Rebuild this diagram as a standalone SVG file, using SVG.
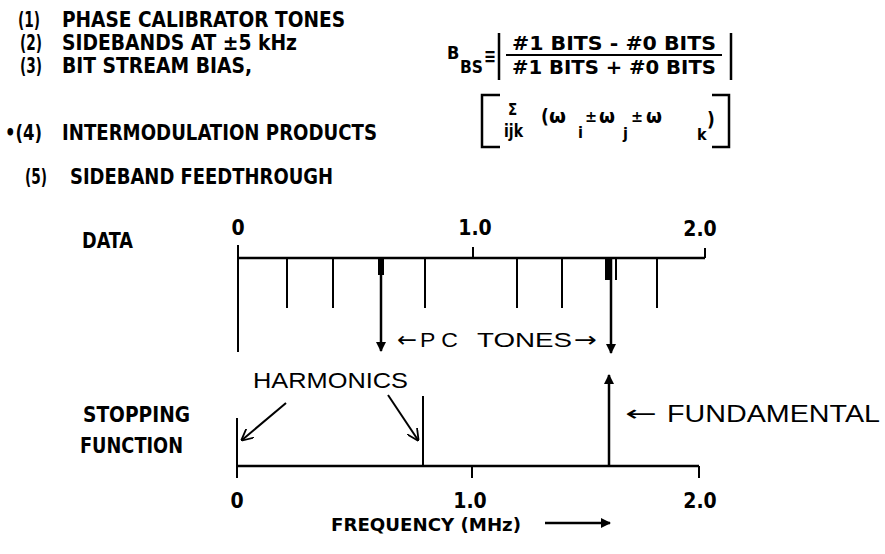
<svg xmlns="http://www.w3.org/2000/svg" width="885" height="554" viewBox="0 0 885 554">
<style>
.b{font-family:"Liberation Sans Narrow","DejaVu Sans Condensed","Liberation Sans",sans-serif;font-weight:bold;fill:#000}
.g{font-family:"DejaVu Sans","Liberation Sans",sans-serif;font-weight:bold;fill:#000}
.t{font-family:"Liberation Sans","DejaVu Sans",sans-serif;font-weight:normal;fill:#000}
.ar{font-family:"DejaVu Sans",sans-serif;font-weight:normal;fill:#000}
.ln{stroke:#000;fill:none;stroke-width:2}
.ax{stroke:#000;fill:none;stroke-width:2.5}
</style>
<defs>
<marker id="fa" viewBox="0 0 10 10" refX="9" refY="5" markerWidth="4" markerHeight="7" orient="auto" markerUnits="strokeWidth"><path d="M0 0 L10 5 L0 10 z" fill="#000"/></marker>
<marker id="oa" viewBox="0 0 10 10" refX="9" refY="5" markerWidth="6" markerHeight="6" orient="auto" markerUnits="strokeWidth"><path d="M0 0 L10 5 L0 10" fill="none" stroke="#000" stroke-width="1.5"/></marker>
</defs>
<rect width="885" height="554" fill="#fff"/>
<g id="list">
<text class="b" x="18" y="27" font-size="22" textLength="22" lengthAdjust="spacingAndGlyphs">(1)</text>
<text class="b" x="62" y="27" font-size="22" textLength="283" lengthAdjust="spacingAndGlyphs">PHASE CALIBRATOR TONES</text>
<text class="b" x="20" y="50" font-size="22" textLength="22" lengthAdjust="spacingAndGlyphs">(2)</text>
<text class="b" x="62" y="50" font-size="22" textLength="235" lengthAdjust="spacingAndGlyphs">SIDEBANDS AT ±5 kHz</text>
<text class="b" x="20" y="73" font-size="22" textLength="22" lengthAdjust="spacingAndGlyphs">(3)</text>
<text class="b" x="62" y="73" font-size="22" textLength="190" lengthAdjust="spacingAndGlyphs">BIT STREAM BIAS,</text>
<text class="b" x="5" y="140" font-size="22" textLength="37" lengthAdjust="spacingAndGlyphs">•(4)</text>
<text class="b" x="62" y="140" font-size="22" textLength="315" lengthAdjust="spacingAndGlyphs">INTERMODULATION PRODUCTS</text>
<text class="b" x="25" y="184" font-size="22" textLength="22" lengthAdjust="spacingAndGlyphs">(5)</text>
<text class="b" x="70" y="184" font-size="22" textLength="263" lengthAdjust="spacingAndGlyphs">SIDEBAND FEEDTHROUGH</text>
</g>
<g id="formula">
<text class="b" x="447" y="59" font-size="18">B</text>
<text class="b" x="460" y="73" font-size="18" textLength="23" lengthAdjust="spacingAndGlyphs">BS</text>
<text class="b" x="484" y="63" font-size="20" textLength="12" lengthAdjust="spacingAndGlyphs">≡</text>
<path class="ax" d="M499 33 V80 M731 33 V80"/>
<text class="b" x="512" y="50" font-size="19" textLength="204" lengthAdjust="spacingAndGlyphs">#1 BITS - #0 BITS</text>
<path class="ln" d="M506 55 H722"/>
<text class="b" x="512" y="74" font-size="19" textLength="204" lengthAdjust="spacingAndGlyphs">#1 BITS  + #0 BITS</text>
<path class="ax" d="M500 95 H482 V147 H500 M712 95 H729 V147 H712"/>
<text class="b" x="508" y="115" font-size="15">Σ</text>
<text class="b" x="504" y="137" font-size="18" textLength="19" lengthAdjust="spacingAndGlyphs">ijk</text>
<text class="b" x="541" y="123" font-size="19">(</text>
<text class="g" x="549" y="123" font-size="20" textLength="17" lengthAdjust="spacingAndGlyphs">ω</text>
<text class="b" x="578" y="138" font-size="16">i</text>
<text class="b" x="585" y="122" font-size="16">±</text>
<text class="g" x="599" y="123" font-size="20" textLength="16" lengthAdjust="spacingAndGlyphs">ω</text>
<text class="b" x="623" y="139" font-size="16">j</text>
<text class="b" x="631" y="122" font-size="16">±</text>
<text class="g" x="646" y="123" font-size="20" textLength="16" lengthAdjust="spacingAndGlyphs">ω</text>
<text class="b" x="697" y="140" font-size="16">k</text>
<text class="b" x="707" y="126" font-size="19">)</text>
</g>
<g id="data">
<text class="b" x="82" y="248" font-size="22" textLength="51" lengthAdjust="spacingAndGlyphs">DATA</text>
<text class="b" x="238" y="235" font-size="21" text-anchor="middle">0</text>
<text class="b" x="475" y="235" font-size="21" text-anchor="middle">1.0</text>
<text class="b" x="700" y="236" font-size="21" text-anchor="middle">2.0</text>
<path class="ax" d="M238 258 H705"/>
<path class="ln" d="M238 245 V352 M473 247 V258 M705 248 V258"/>
<path class="ln" d="M287 258 V308 M333 258 V308 M425 258 V308 M517 258 V308 M562 258 V308 M657 258 V308"/>
<path d="M378 258 h6 v17 h-6 z M605 258 h5 v22 h-5 z" fill="#000"/>
<path class="ln" d="M616 258 V280"/>
<text class="t" y="347" font-size="21"><tspan class="ar" x="397" textLength="20" lengthAdjust="spacingAndGlyphs">←</tspan><tspan x="420" textLength="38" lengthAdjust="spacingAndGlyphs">P C</tspan><tspan x="477" textLength="95" lengthAdjust="spacingAndGlyphs">TONES</tspan><tspan class="ar" x="574" textLength="23" lengthAdjust="spacingAndGlyphs">→</tspan></text>
</g>
<g id="stopping">
<text class="b" x="83" y="422" font-size="21" textLength="107" lengthAdjust="spacingAndGlyphs">STOPPING</text>
<text class="b" x="80" y="453" font-size="21" textLength="103" lengthAdjust="spacingAndGlyphs">FUNCTION</text>
<text class="t" x="253" y="388" font-size="22" textLength="155" lengthAdjust="spacingAndGlyphs">HARMONICS</text>
<path class="ax" d="M237 466 H699"/>
<path class="ln" d="M237 418 V478 M423 396 V466 M472 466 V478 M699 466 V478"/>
<text class="ar" x="625" y="421" font-size="22" textLength="32" lengthAdjust="spacingAndGlyphs">←</text>
<text class="t" x="667" y="422" font-size="23" textLength="213" lengthAdjust="spacingAndGlyphs">FUNDAMENTAL</text>
<text class="b" x="237" y="508" font-size="21" text-anchor="middle">0</text>
<text class="b" x="470" y="508" font-size="21" text-anchor="middle">1.0</text>
<text class="b" x="700" y="508" font-size="21" text-anchor="middle">2.0</text>
<text class="b" x="331" y="531" font-size="18" textLength="190" lengthAdjust="spacingAndGlyphs">FREQUENCY (MHz)</text>
</g>
<g id="connectors">
<path class="ax" d="M381 275 V351" marker-end="url(#fa)"/>
<path class="ax" d="M611 258 V353" marker-end="url(#fa)"/>
<path class="ax" d="M609 466 V375" stroke-width="3" marker-end="url(#fa)"/>
<path class="ln" d="M286 403 L242 440" marker-end="url(#oa)"/>
<path class="ln" d="M388 395 L418 440" marker-end="url(#oa)"/>
<path class="ax" d="M545 523 H610" marker-end="url(#fa)"/>
</g>
</svg>
